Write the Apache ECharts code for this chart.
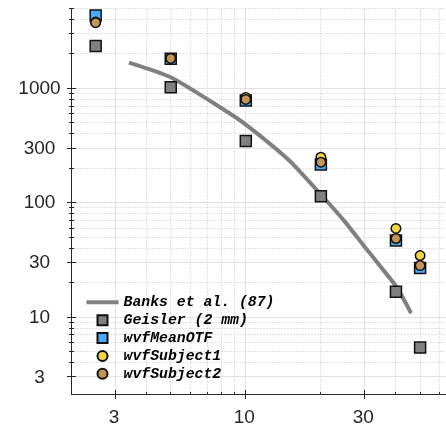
<!DOCTYPE html>
<html>
<head>
<meta charset="utf-8">
<script src="https://cdn.jsdelivr.net/npm/echarts@6/dist/echarts.min.js"></script>
<style>
  html, body { margin: 0; padding: 0; background: #ffffff; }
  #chart { width: 446px; height: 425px; }
</style>
</head>
<body>
<div id="chart"></div>
<script>
// Spatial frequencies (cycles/deg) of the model observers
const freqs = [2.5, 5, 10, 20, 40, 50];
const geisler = [2350, 1026, 346, 114, 16.6, 5.4];
const meanOTF = [4350, 1820, 785, 216, 46.7, 26.8];
const subject1 = [3800, 1840, 834, 250, 59.6, 34.5];
const subject2 = [3760, 1830, 801, 226, 48.6, 28.2];

// Banks et al. (1987) ideal-observer contrast sensitivity curve
const banksFreqs = [3.4, 5, 8, 10, 15, 20, 25, 30, 35, 40, 46];
const banksSens = [1680, 1250, 670, 482, 232, 118, 68, 41, 27, 18.6, 10.8];

// Axis ticks (log scales)
const xTicks = [3, 10, 30];
const xMinorTicks = [4, 5, 6, 7, 8, 9, 20, 40, 50, 60];
const yTicks = [3, 10, 30, 100, 300, 1000];
const yMinorTicks = [4, 5, 6, 7, 8, 9, 20, 40, 50, 60, 70, 80, 90,
  200, 400, 500, 600, 700, 800, 900, 2000, 3000, 4000, 5000];
const xRange = [2, 63.5];
const yRange = [2.1, 5000];

const names = ['Banks et al. (87)', 'Geisler (2 mm)', 'wvfMeanOTF', 'wvfSubject1', 'wvfSubject2'];

const pair = (xs, ys) => xs.map((x, i) => [x, ys[i]]);

// Grid lines, tick marks and tick labels, placed through the axes' own scales
const decorData = [];
xTicks.forEach(v => decorData.push([v, yRange[0], 0]));
xMinorTicks.forEach(v => decorData.push([v, yRange[0], 1]));
yTicks.forEach(v => decorData.push([xRange[0], v, 2]));
yMinorTicks.forEach(v => decorData.push([xRange[0], v, 3]));

const crisp = v => Math.round(v - 0.5) + 0.5;
const axisColor = '#262626';

function renderDecor(params, api) {
  const kind = api.value(2);
  const isX = kind < 2;
  const major = kind % 2 === 0;
  const v = api.value(isX ? 0 : 1);
  const a = isX ? api.coord([v, yRange[0]]) : api.coord([xRange[0], v]);
  const b = isX ? api.coord([v, yRange[1]]) : api.coord([xRange[1], v]);
  const gridStyle = major
    ? { stroke: '#e2e2e2', lineWidth: 1 }
    : { stroke: '#c4c4c4', lineWidth: 1, lineDash: [1, 2] };
  const children = [];
  const t = major ? 4.5 : 2.5;
  if (isX) {
    const x = crisp(a[0]);
    children.push({ type: 'line', shape: { x1: x, y1: a[1], x2: x, y2: b[1] }, style: gridStyle });
    children.push({ type: 'line', shape: { x1: x, y1: a[1] - t, x2: x, y2: a[1] + (major ? t : 0) },
      style: { stroke: axisColor, lineWidth: 1 } });
    if (major) {
      children.push({ type: 'text', x: a[0] - 1.5, y: a[1] + 23,
        style: { text: String(v), fontSize: 19, fontFamily: 'Liberation Sans', fill: axisColor,
          align: 'center', verticalAlign: 'middle' } });
    }
  } else {
    const y = crisp(a[1]);
    children.push({ type: 'line', shape: { x1: a[0], y1: y, x2: b[0], y2: y }, style: gridStyle });
    children.push({ type: 'line', shape: { x1: a[0] - t, y1: y, x2: a[0] + t, y2: y },
      style: { stroke: axisColor, lineWidth: 1 } });
    if (major) {
      children.push({ type: 'text', x: 39.5, y: a[1] + 0.5,
        style: { text: String(v), fontSize: 19, fontFamily: 'Liberation Sans', fill: axisColor,
          align: 'center', verticalAlign: 'middle' } });
    }
  }
  return { type: 'group', children };
}

const markerBorder = { borderColor: '#111111', borderWidth: 1.5 };
const squareIcon = 'path://M0,0L10,0L10,10L0,10Z';
const lineIcon = 'path://M0,0L32,0L32,4L0,4Z';

const chart = echarts.init(document.getElementById('chart'), null, { renderer: 'canvas' });
chart.setOption({
  animation: false,
  backgroundColor: '#ffffff',
  grid: { left: 71.5, top: 8.5, right: 0, bottom: 30.5, containLabel: false },
  xAxis: {
    type: 'log', logBase: 10, min: xRange[0], max: xRange[1],
    axisLine: { show: true, lineStyle: { color: axisColor, width: 1 } },
    axisTick: { show: false }, axisLabel: { show: false },
    splitLine: { show: false }, minorTick: { show: false }, minorSplitLine: { show: false }
  },
  yAxis: {
    type: 'log', logBase: 10, min: yRange[0], max: yRange[1],
    axisLine: { show: true, lineStyle: { color: axisColor, width: 1 } },
    axisTick: { show: false }, axisLabel: { show: false },
    splitLine: { show: false }, minorTick: { show: false }, minorSplitLine: { show: false }
  },
  legend: {
    orient: 'vertical',
    left: 86.5, top: 293.5,
    padding: 0,
    itemGap: 0.4,
    itemWidth: 32, itemHeight: 10,
    symbolKeepAspect: true,
    textStyle: {
      fontFamily: 'Liberation Mono', fontWeight: 'bold', fontStyle: 'italic',
      fontSize: 14.8, color: '#000000', lineHeight: 17.5
    },
    data: [
      { name: names[0], icon: lineIcon },
      { name: names[1], icon: squareIcon },
      { name: names[2], icon: squareIcon },
      { name: names[3], icon: 'circle' },
      { name: names[4], icon: 'circle' }
    ]
  },
  series: [
    {
      type: 'custom', name: 'axes', silent: true, z: 1,
      renderItem: renderDecor, data: decorData, clip: false
    },
    {
      type: 'line', name: names[0], data: pair(banksFreqs, banksSens),
      symbol: 'none', smooth: 0.2, z: 2,
      lineStyle: { color: '#808080', width: 4 },
      itemStyle: { color: '#808080', borderWidth: 0 }
    },
    {
      type: 'scatter', name: names[1], data: pair(freqs, geisler),
      symbol: 'rect', symbolSize: 11, z: 3,
      itemStyle: Object.assign({ color: '#808080', opacity: 1 }, markerBorder)
    },
    {
      type: 'scatter', name: names[2], data: pair(freqs, meanOTF),
      symbol: 'rect', symbolSize: 11, z: 3,
      itemStyle: Object.assign({ color: '#4fa7f7', opacity: 1 }, markerBorder)
    },
    {
      type: 'scatter', name: names[3], data: pair(freqs, subject1),
      symbol: 'circle', symbolSize: 9.5, z: 3,
      itemStyle: Object.assign({ color: '#f2d34c', opacity: 1 }, markerBorder)
    },
    {
      type: 'scatter', name: names[4], data: pair(freqs, subject2),
      symbol: 'circle', symbolSize: 9.5, z: 3,
      itemStyle: Object.assign({ color: '#c4955a', opacity: 1 }, markerBorder)
    }
  ]
});
</script>
</body>
</html>
